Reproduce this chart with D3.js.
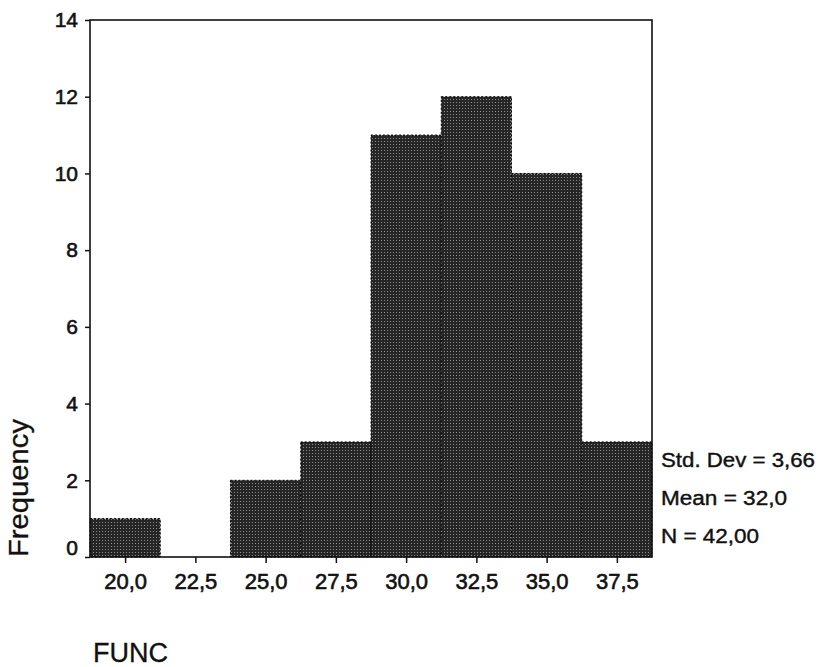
<!DOCTYPE html>
<html>
<head>
<meta charset="utf-8">
<script src="https://cdn.jsdelivr.net/npm/d3@7"></script>
<style>
  html, body { margin: 0; padding: 0; background: #fff; }
  svg { display: block; font-family: "Liberation Sans", Arial, sans-serif; }
</style>
</head>
<body>
<svg id="chart" width="818" height="667"></svg>
<script>
// ---- data ----
const binCenters = [20.0, 22.5, 25.0, 27.5, 30.0, 32.5, 35.0, 37.5];
const frequencies = [1, 0, 2, 3, 11, 12, 10, 3];
const binWidth = 2.5;
const yTicks = [0, 2, 4, 6, 8, 10, 12, 14];
const statsLines = ["Std. Dev = 3,66", "Mean = 32,0", "N = 42,00"];
const xTitle = "FUNC";
const yTitle = "Frequency";

// ---- layout ----
const plot = { left: 90, right: 652, top: 20, bottom: 557 };
const svg = d3.select("#chart");

const x = d3.scaleLinear()
  .domain([binCenters[0] - binWidth / 2, binCenters[binCenters.length - 1] + binWidth / 2])
  .range([plot.left, plot.right]);
const y = d3.scaleLinear().domain([0, 14]).range([plot.bottom, plot.top]);

// texture pattern for bars
const defs = svg.append("defs");
const pat = defs.append("pattern")
  .attr("id", "dots").attr("patternUnits", "userSpaceOnUse")
  .attr("width", 3).attr("height", 3);
pat.append("rect").attr("width", 3).attr("height", 3).attr("fill", "#262626");
pat.append("rect").attr("width", 1).attr("height", 1).attr("fill", "#8c8c8c");

// bars
const bins = binCenters.map((c, i) => ({ c, f: frequencies[i] }));
svg.append("g").selectAll("rect")
  .data(bins.filter(d => d.f > 0))
  .join("rect")
  .attr("x", d => x(d.c - binWidth / 2))
  .attr("y", d => y(d.f))
  .attr("width", d => x(d.c + binWidth / 2) - x(d.c - binWidth / 2))
  .attr("height", d => y(0) - y(d.f))
  .attr("fill", "url(#dots)")
  .attr("stroke", "#000")
  .attr("stroke-width", 1)
  .attr("stroke-dasharray", "2,2");

// frame
svg.append("rect")
  .attr("x", plot.left).attr("y", plot.top)
  .attr("width", plot.right - plot.left).attr("height", plot.bottom - plot.top)
  .attr("fill", "none").attr("stroke", "#111").attr("stroke-width", 1.6);

const fmt = v => d3.format(".1f")(v).replace(".", ",");

// y axis
const gy = svg.append("g")
  .attr("transform", `translate(${plot.left},0)`)
  .call(d3.axisLeft(y).tickValues(yTicks).tickSize(5).tickPadding(7).tickFormat(d3.format("d")));
gy.select(".domain").remove();
gy.selectAll(".tick line").attr("stroke", "#111").attr("stroke-width", 1.5);
gy.selectAll(".tick text")
  .attr("font-size", 21).attr("fill", "#111")
  .attr("stroke", "#111").attr("stroke-width", 0.6)
  .attr("font-family", "Liberation Sans, Arial, sans-serif")
  .attr("dy", d => d === 0 ? "-0.1em" : "0.32em");

// x axis
const gx = svg.append("g")
  .attr("transform", `translate(0,${plot.bottom})`)
  .call(d3.axisBottom(x).tickValues(binCenters).tickSize(6).tickPadding(10).tickFormat(fmt));
gx.select(".domain").remove();
gx.selectAll(".tick line").attr("stroke", "#111").attr("stroke-width", 1.5);
gx.selectAll(".tick text")
  .attr("font-size", 22).attr("fill", "#111")
  .attr("stroke", "#111").attr("stroke-width", 0.6)
  .attr("font-family", "Liberation Sans, Arial, sans-serif");

// stats text
const statLens = [154, 126, 98];
svg.append("g").selectAll("text")
  .data(statsLines)
  .join("text")
  .attr("x", 661)
  .attr("y", (d, i) => 467 + i * 38)
  .attr("font-size", 20)
  .attr("fill", "#111")
  .attr("stroke", "#111").attr("stroke-width", 0.4)
  .attr("textLength", (d, i) => statLens[i])
  .attr("lengthAdjust", "spacingAndGlyphs")
  .text(d => d);

// axis titles
svg.append("text")
  .attr("x", 93).attr("y", 662)
  .attr("font-size", 27).attr("fill", "#111")
  .attr("stroke", "#111").attr("stroke-width", 0.3)
  .text(xTitle);

svg.append("text")
  .attr("transform", "translate(28,557) rotate(-90)")
  .attr("text-anchor", "start")
  .attr("font-size", 27).attr("fill", "#111")
  .attr("stroke", "#111").attr("stroke-width", 0.3)
  .attr("textLength", 138)
  .attr("lengthAdjust", "spacingAndGlyphs")
  .text(yTitle);
</script>
</body>
</html>
